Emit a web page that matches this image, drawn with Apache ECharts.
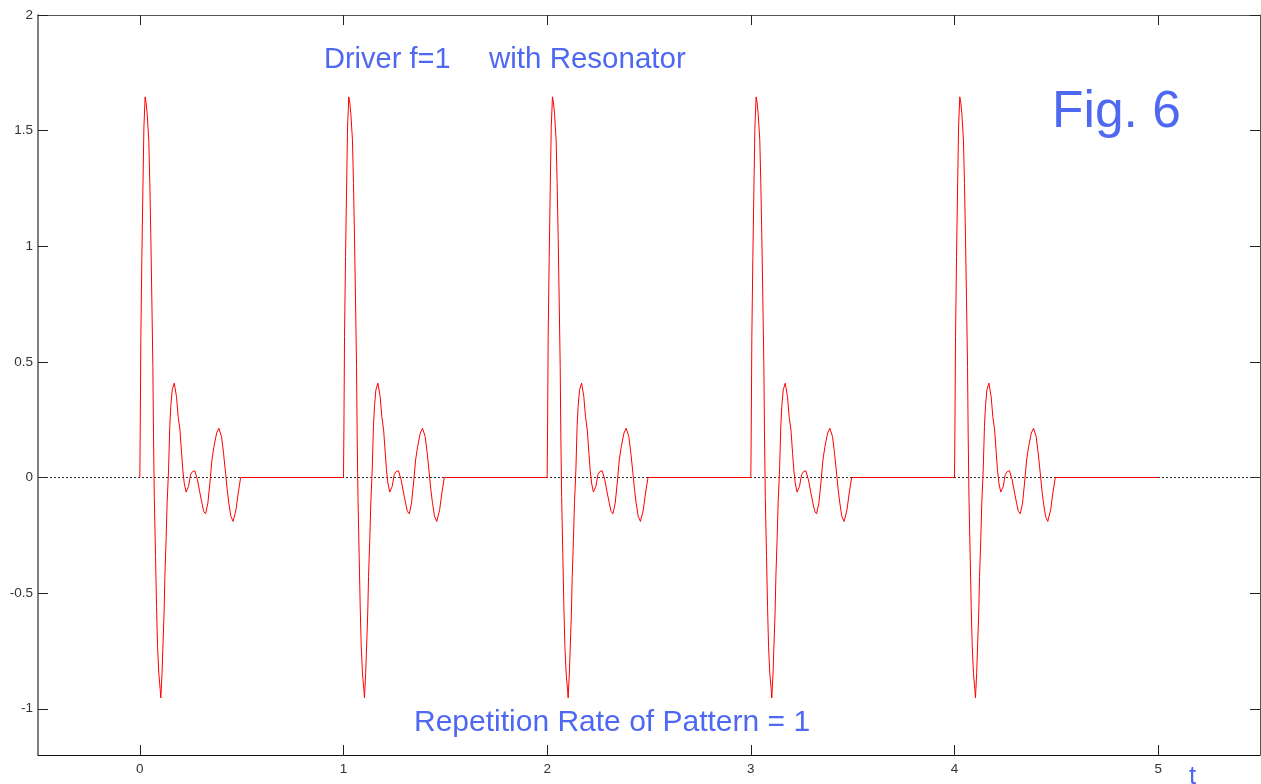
<!DOCTYPE html>
<html>
<head>
<meta charset="utf-8">
<title>Driver f=1 with Resonator</title>
<script src="https://cdn.jsdelivr.net/npm/echarts@6/dist/echarts.min.js"></script>
<style>
  html, body { margin: 0; padding: 0; background: #ffffff; }
  #chart { width: 1261px; height: 784px; }
</style>
</head>
<body>
<div id="chart"></div>
<script>
// One resonator response pattern (time within the pattern, amplitude)
const pulseT = [0, 0.002, 0.005, 0.010, 0.015, 0.020, 0.026, 0.031, 0.036, 0.044,
  0.049, 0.054, 0.059, 0.064, 0.067, 0.071, 0.077, 0.082, 0.087, 0.093,
  0.100, 0.103, 0.109, 0.114, 0.119, 0.123, 0.129, 0.134, 0.141, 0.147,
  0.152, 0.159, 0.169, 0.180, 0.188, 0.197, 0.205, 0.211, 0.218, 0.227,
  0.239, 0.249, 0.259, 0.270, 0.283, 0.295, 0.305, 0.314, 0.323, 0.334,
  0.344, 0.354, 0.364, 0.377, 0.388, 0.401, 0.411, 0.421, 0.429, 0.437,
  0.447, 0.458, 0.472, 0.483, 0.495, 0.500];
const pulseY = [0, 0.21, 0.61, 0.955, 1.243, 1.516, 1.646, 1.62, 1.574, 1.459,
  1.272, 1.041, 0.768, 0.480, 0.193, -0.082, -0.341, -0.557, -0.730, -0.845,
  -0.917, -0.953, -0.845, -0.716, -0.586, -0.428, -0.269, -0.111, 0.033, 0.220,
  0.307, 0.379, 0.408, 0.350, 0.264, 0.206, 0.105, 0.033, -0.024, -0.063,
  -0.039, 0.012, 0.026, 0.029, -0.010, -0.067, -0.111, -0.147, -0.157, -0.111,
  -0.024, 0.076, 0.134, 0.192, 0.213, 0.177, 0.105, 0.019, -0.053, -0.111,
  -0.168, -0.190, -0.140, -0.067, 0, 0];

// Pattern start times (repetition rate = 1) and end of the trace
const patternStarts = [0, 1, 2, 3, 4];
const traceEnd = 5;

// Axis ranges and tick positions
const xRange = [-0.5, 5.5];
const yRange = [-1.2, 2];
const xTicks = [0, 1, 2, 3, 4, 5];
const yTicks = [-1, -0.5, 0, 0.5, 1, 1.5, 2];

// Text
const titleLeft = 'Driver f=1';
const titleRight = 'with Resonator';
const figLabel = 'Fig. 6';
const bottomNote = 'Repetition Rate of Pattern = 1';
const xName = 't';

// Build the full trace by placing the pattern at each start time
const trace = [];
patternStarts.forEach(function (s) {
  for (let i = 0; i < pulseT.length; i++) {
    trace.push([s + pulseT[i], pulseY[i]]);
  }
});
trace.push([traceEnd, 0]);

const textBlue = '#4f68f2';
const frame = '#555555';

const chart = echarts.init(document.getElementById('chart'), null, { renderer: 'canvas' });

const tickStyle = { show: true, inside: true, length: 10, lineStyle: { color: '#222', width: 1 } };

chart.setOption({
  animation: false,
  backgroundColor: '#ffffff',
  grid: { left: 38, right: 1, top: 15, bottom: 29, containLabel: false, outerBoundsMode: 'none' },
  xAxis: [
    {
      type: 'value', position: 'bottom', min: xRange[0], max: xRange[1],
      axisLine: { show: true, onZero: false, lineStyle: { color: '#111', width: 1 } },
      axisTick: Object.assign({}, tickStyle, { customValues: xTicks }),
      axisLabel: {
        customValues: xTicks, margin: 7, color: '#333',
        fontFamily: 'Liberation Sans', fontSize: 13.5
      },
      splitLine: { show: false }
    },
    {
      type: 'value', position: 'top', min: xRange[0], max: xRange[1],
      axisLine: { show: true, onZero: false, lineStyle: { color: frame, width: 1 } },
      axisTick: Object.assign({}, tickStyle, { customValues: xTicks }),
      axisLabel: { show: false },
      splitLine: { show: false }
    }
  ],
  yAxis: [
    {
      type: 'value', position: 'left', min: yRange[0], max: yRange[1],
      axisLine: { show: true, onZero: false, lineStyle: { color: frame, width: 1.5 } },
      axisTick: Object.assign({}, tickStyle, { customValues: yTicks }),
      axisLabel: {
        customValues: yTicks, margin: 5, color: '#333',
        fontFamily: 'Liberation Sans', fontSize: 13.5
      },
      splitLine: { show: false }
    },
    {
      type: 'value', position: 'right', min: yRange[0], max: yRange[1],
      axisLine: { show: true, onZero: false, lineStyle: { color: frame, width: 1 } },
      axisTick: Object.assign({}, tickStyle, { customValues: yTicks }),
      axisLabel: { show: false },
      splitLine: { show: false }
    }
  ],
  series: [
    {
      // dotted zero reference line
      type: 'line', xAxisIndex: 0, yAxisIndex: 0, z: 1,
      data: [[xRange[0], 0], [xRange[1], 0]],
      symbol: 'none', silent: true,
      lineStyle: { color: '#333', width: 1, type: [2, 2] }
    },
    {
      type: 'line', xAxisIndex: 0, yAxisIndex: 0, z: 2,
      data: trace, symbol: 'none', smooth: false,
      lineStyle: { color: '#ff0000', width: 1 }
    }
  ],
  graphic: [
    {
      type: 'text', left: 324, top: 45,
      style: { text: titleLeft, fill: textBlue, font: '29px "Liberation Sans"' }
    },
    {
      type: 'text', left: 489, top: 45,
      style: { text: titleRight, fill: textBlue, font: '29.5px "Liberation Sans"' }
    },
    {
      type: 'text', left: 1052, top: 87,
      style: { text: figLabel, fill: textBlue, font: '51.5px "Liberation Sans"' }
    },
    {
      type: 'text', left: 414, top: 708,
      style: { text: bottomNote, fill: textBlue, font: '30px "Liberation Sans"' }
    },
    {
      type: 'text', left: 1189, top: 764,
      style: { text: xName, fill: textBlue, font: '26px "Liberation Sans"' }
    }
  ]
});
</script>
</body>
</html>
